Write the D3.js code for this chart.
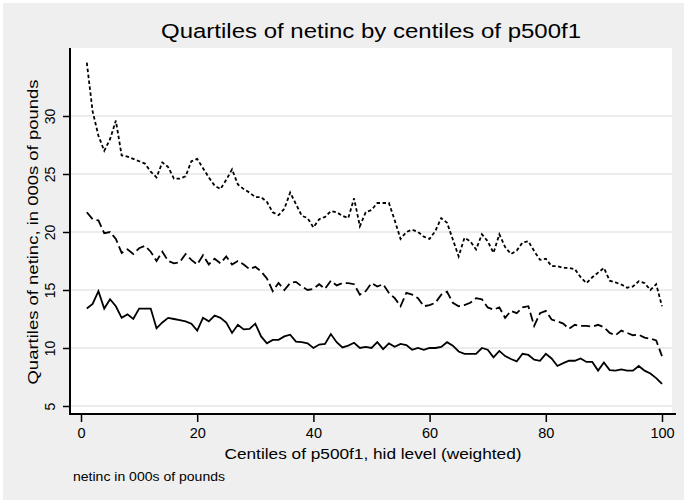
<!DOCTYPE html>
<html>
<head>
<meta charset="utf-8">
<script src="https://cdn.jsdelivr.net/npm/d3@7"></script>
<style>
  body { margin: 0; background: #fff; }
  text { font-family: "Liberation Sans", Arial, sans-serif; fill: #000; }
</style>
</head>
<body>
<svg id="chart" width="686" height="502"></svg>
<script>
// upper quartile, median and lower quartile of netinc for centiles 1..100
var q3 = [34.6, 30.4, 28.3, 27.0, 28.0, 29.6, 26.6, 26.5, 26.3, 26.1,
  25.9, 25.2, 24.7, 26.0, 25.6, 24.6, 24.6, 24.8, 26.1, 26.3,
  25.5, 24.7, 24.0, 23.7, 24.5, 25.4, 24.1, 23.7, 23.4, 23.0,
  23.0, 22.6, 21.7, 21.45, 22.0, 23.4, 22.4, 21.4, 21.2, 20.4,
  21.1, 21.3, 21.8, 21.7, 21.4, 21.2, 22.9, 20.5, 21.7, 21.9,
  22.5, 22.5, 22.5, 21.0, 19.4, 20.0, 20.2, 20.0, 19.6, 19.4,
  20.1, 21.2, 20.8, 19.35, 17.9, 19.5, 19.2, 18.5, 19.8, 19.2,
  18.2, 19.8, 18.7, 18.1, 18.4, 19.1, 19.2, 18.35, 17.6, 17.7,
  17.05, 17.05, 16.9, 16.9, 16.8, 16.1, 15.6, 16.1, 16.5, 16.9,
  15.8, 15.65, 15.47, 15.2, 15.3, 15.75, 15.6, 15.0, 15.5, 13.6];

var q2 = [21.7, 21.1, 21.0, 19.9, 20.0, 19.4, 18.2, 18.5, 18.1, 18.6,
  18.8, 18.3, 17.5, 18.3, 17.5, 17.3, 17.4, 18.1, 17.6, 17.2,
  18.0, 17.2, 17.7, 17.3, 17.9, 17.2, 17.5, 17.2, 16.8, 17.0,
  16.6, 16.0, 14.9, 15.6, 15.0, 15.6, 15.7, 15.3, 15.0, 15.1,
  15.5, 15.1, 15.8, 15.4, 15.6, 15.6, 15.5, 14.6, 14.9, 15.6,
  15.3, 15.5, 14.75, 14.3, 13.6, 14.75, 14.6, 14.3, 13.6, 13.7,
  13.9, 14.6, 14.85, 13.9, 13.6, 13.7, 13.9, 14.3, 14.2, 13.5,
  13.3, 13.5, 12.6, 13.2, 13.0, 13.5, 13.6, 11.9, 13.0, 13.2,
  12.45, 12.3, 12.1, 11.65, 12.0, 11.9, 11.9, 11.85, 12.0, 11.8,
  11.3, 11.1, 11.5, 11.3, 11.1, 11.15, 10.9, 10.8, 10.65, 9.3];

var q1 = [13.4, 13.8, 14.9, 13.4, 14.2, 13.6, 12.6, 12.9, 12.5, 13.4,
  13.4, 13.4, 11.7, 12.2, 12.6, 12.5, 12.4, 12.3, 12.1, 11.5,
  12.6, 12.3, 12.8, 12.6, 12.2, 11.3, 12.0, 11.6, 11.65, 12.1,
  11.0, 10.4, 10.7, 10.7, 11.0, 11.15, 10.55, 10.5, 10.4, 10.0,
  10.3, 10.35, 11.2, 10.5, 10.05, 10.2, 10.45, 10.0, 10.1, 10.0,
  10.5, 9.9, 10.4, 10.1, 10.35, 10.25, 9.85, 10.0, 9.85, 10.0,
  10.0, 10.1, 10.5, 10.2, 9.7, 9.5, 9.5, 9.5, 10.0, 9.85,
  9.2, 9.75, 9.3, 9.05, 8.85, 9.5, 9.4, 9.0, 8.9, 9.5,
  9.1, 8.45, 8.7, 8.9, 8.9, 9.1, 8.8, 8.8, 8.05, 8.75,
  8.1, 8.05, 8.15, 8.05, 8.05, 8.45, 8.05, 7.8, 7.4, 6.9];

var centiles = d3.range(1, 101);
var xTicks = [0, 20, 40, 60, 80, 100];
var yTicks = [5, 10, 15, 20, 25, 30];

var svg = d3.select("#chart");

// outer grey frame
svg.append("rect").attr("x", 3).attr("y", 3).attr("width", 681).attr("height", 497)
  .attr("fill", "#efefef");

var plotL = 70, plotR = 672, plotT = 48, plotB = 414;

svg.append("rect").attr("x", plotL).attr("y", plotT)
  .attr("width", plotR - plotL).attr("height", plotB - plotT).attr("fill", "#fff");

var x = d3.scaleLinear().domain([0, 100]).range([81, 662]);
var y = d3.scaleLinear().domain([5, 30]).range([406, 116]);

// gridlines
svg.append("g").selectAll("line").data(yTicks).enter().append("line")
  .attr("x1", plotL).attr("x2", plotR)
  .attr("y1", d => y(d)).attr("y2", d => y(d))
  .attr("stroke", "#e6e6e6").attr("stroke-width", 1.6);

// y axis
var yAxis = svg.append("g").attr("transform", "translate(" + plotL + ",0)")
  .call(d3.axisLeft(y).tickValues(yTicks).tickSize(7).tickSizeOuter(0));
yAxis.select(".domain").remove();
yAxis.selectAll(".tick line").attr("stroke", "#000").attr("stroke-width", 1.5);
yAxis.selectAll(".tick text")
  .attr("font-size", 14).attr("font-family", "Liberation Sans, Arial, sans-serif")
  .attr("text-anchor", "middle")
  .attr("x", 0).attr("y", 0).attr("dy", "0.35em")
  .attr("transform", "translate(-20,0) rotate(-90)");

// x axis
var xAxis = svg.append("g").attr("transform", "translate(0," + plotB + ")")
  .call(d3.axisBottom(x).tickValues(xTicks).tickSize(8).tickSizeOuter(0).tickPadding(6));
xAxis.select(".domain").remove();
xAxis.selectAll(".tick line").attr("stroke", "#000").attr("stroke-width", 1.5);
xAxis.selectAll(".tick text").attr("font-size", 14.5)
  .attr("font-family", "Liberation Sans, Arial, sans-serif");

// axis lines
svg.append("line").attr("x1", plotL).attr("x2", plotL).attr("y1", plotT).attr("y2", plotB + 1)
  .attr("stroke", "#000").attr("stroke-width", 2);
svg.append("line").attr("x1", plotL).attr("x2", plotR + 4).attr("y1", plotB).attr("y2", plotB)
  .attr("stroke", "#000").attr("stroke-width", 2);

// series
var line = d3.line().x((d, i) => x(centiles[i])).y(d => y(d));

svg.append("path").datum(q1).attr("d", line)
  .attr("fill", "none").attr("stroke", "#000").attr("stroke-width", 1.8);
svg.append("path").datum(q2).attr("d", line)
  .attr("fill", "none").attr("stroke", "#000").attr("stroke-width", 1.8)
  .attr("stroke-dasharray", "9,4");
svg.append("path").datum(q3).attr("d", line)
  .attr("fill", "none").attr("stroke", "#000").attr("stroke-width", 1.8)
  .attr("stroke-dasharray", "3.5,2.5");

// titles
svg.append("text").attr("x", 371).attr("y", 38).attr("text-anchor", "middle")
  .attr("font-size", 20.5).attr("textLength", 420).attr("lengthAdjust", "spacingAndGlyphs")
  .text("Quartiles of netinc by centiles of p500f1");

svg.append("text").attr("x", 373).attr("y", 459).attr("text-anchor", "middle")
  .attr("font-size", 15.5).attr("textLength", 297).attr("lengthAdjust", "spacingAndGlyphs")
  .text("Centiles of p500f1, hid level (weighted)");

svg.append("text").attr("transform", "translate(38,232) rotate(-90)")
  .attr("text-anchor", "middle").attr("font-size", 15.5)
  .attr("textLength", 305).attr("lengthAdjust", "spacingAndGlyphs")
  .text("Quartiles of netinc, in 000s of pounds");

svg.append("text").attr("x", 73).attr("y", 481).attr("font-size", 12)
  .attr("textLength", 152).attr("lengthAdjust", "spacingAndGlyphs")
  .text("netinc in 000s of pounds");
</script>
</body>
</html>
